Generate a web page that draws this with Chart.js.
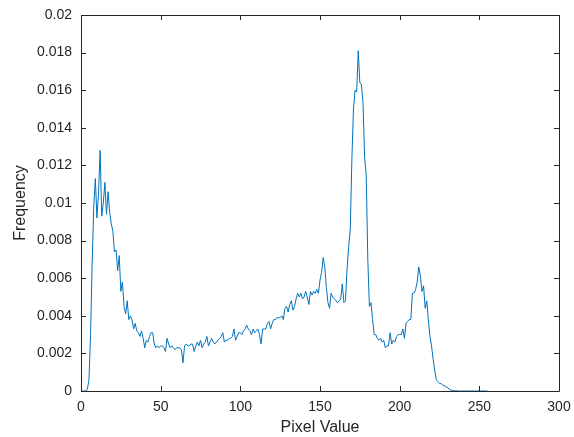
<!DOCTYPE html>
<html>
<head>
<meta charset="utf-8">
<script src="https://cdn.jsdelivr.net/npm/chart.js@4.4.1/dist/chart.umd.min.js"></script>
<style>
html,body{margin:0;padding:0;background:#fff;}
#wrap{width:574px;height:437px;}
</style>
</head>
<body>
<div id="wrap"><canvas id="c" width="574" height="437"></canvas></div>
<script>
// Histogram frequencies for pixel values 0..255
const frequency = [
  0,0,0,0,0.0001,0.0006,0.0030,0.0068,0.0098,0.0113,
  0.0092,0.0105,0.0128,0.0093,0.0100,0.0111,0.0094,0.0106,0.0095,0.0089,
  0.0085,0.0074,0.0075,0.0064,0.0072,0.0053,0.0058,0.0045,0.0041,0.0048,
  0.0038,0.0040,0.0038,0.0033,0.0036,0.0032,0.0031,0.0029,0.0032,0.0028,
  0.0023,0.0027,0.0026,0.0029,0.0031,0.0031,0.0025,0.0023,0.0024,0.0023,
  0.0024,0.0024,0.0023,0.0021,0.0028,0.0025,0.0023,0.0024,0.0023,0.0022,
  0.0023,0.0023,0.0023,0.0022,0.0015,0.0024,0.0025,0.0024,0.0024,0.0025,
  0.0025,0.0021,0.0024,0.0026,0.0024,0.0027,0.0023,0.0025,0.0026,0.0029,
  0.0024,0.0026,0.0028,0.0026,0.0025,0.0026,0.0027,0.0028,0.0029,0.0031,
  0.0026,0.0027,0.0027,0.0028,0.0028,0.0029,0.0033,0.0027,0.0029,0.0031,
  0.0031,0.0030,0.0032,0.0033,0.0035,0.0033,0.0032,0.0030,0.0033,0.0031,
  0.0032,0.0033,0.0030,0.0025,0.0033,0.0033,0.0033,0.0036,0.0037,0.0033,
  0.0036,0.0038,0.0038,0.0039,0.0039,0.0039,0.0040,0.0038,0.0044,0.0045,
  0.0042,0.0046,0.0048,0.0043,0.0045,0.0049,0.0052,0.0050,0.0052,0.0049,
  0.0050,0.0053,0.0050,0.0046,0.0053,0.0051,0.0053,0.0052,0.0054,0.0052,
  0.0059,0.0063,0.0071,0.0066,0.0055,0.0047,0.0044,0.0052,0.0050,0.0049,
  0.0048,0.0047,0.0048,0.0049,0.0057,0.0047,0.0048,0.0065,0.0077,0.0086,
  0.0123,0.0150,0.0160,0.0159,0.0181,0.0164,0.0163,0.0153,0.0124,0.0115,
  0.0070,0.0045,0.0047,0.0038,0.0030,0.0030,0.0028,0.0027,0.0028,0.0026,
  0.0027,0.0023,0.0024,0.0024,0.0031,0.0025,0.0027,0.0026,0.0029,0.0030,
  0.0030,0.0030,0.0033,0.0028,0.0036,0.0037,0.0038,0.0038,0.0052,0.0052,
  0.0054,0.0058,0.0066,0.0061,0.0053,0.0056,0.0044,0.0048,0.0038,0.0029,
  0.0024,0.0017,0.0011,0.0006,0.0005,0.0004,0.0004,0.0003,0.0003,0.0002,
  0.0002,0.0001,0.00005,0.00003,0.00002,0.00001,0.00001,0,0,0,
  0,0,0,0,0,0,0,0,0,0,
  0,0,0,0,0,0
];
const xTicks = [0, 50, 100, 150, 200, 250, 300];
const yTicks = [0, 0.002, 0.004, 0.006, 0.008, 0.01, 0.012, 0.014, 0.016, 0.018, 0.02];
const xLabel = 'Pixel Value';
const yLabel = 'Frequency';

const points = frequency.map((v, i) => ({x: i, y: v}));
const axisColor = '#262626';
const FONT = '"Liberation Sans", Arial, Helvetica, sans-serif';

const boxTicks = {
  id: 'boxTicks',
  afterDraw(chart) {
    const {ctx, chartArea: a, scales} = chart;
    ctx.save();
    ctx.strokeStyle = axisColor;
    ctx.lineWidth = 1;
    ctx.beginPath();
    ctx.rect(Math.round(a.left) + 0.5, Math.round(a.top) + 0.5, Math.round(a.right - a.left), Math.round(a.bottom - a.top));
    ctx.stroke();
    const L = 5;
    ctx.beginPath();
    xTicks.forEach(t => {
      const px = Math.round(scales.x.getPixelForValue(t)) + 0.5;
      ctx.moveTo(px, a.bottom); ctx.lineTo(px, a.bottom - L);
      ctx.moveTo(px, a.top); ctx.lineTo(px, a.top + L);
    });
    yTicks.forEach(t => {
      const py = Math.round(scales.y.getPixelForValue(t)) + 0.5;
      ctx.moveTo(a.left, py); ctx.lineTo(a.left + L, py);
      ctx.moveTo(a.right, py); ctx.lineTo(a.right - L, py);
    });
    ctx.stroke();
    ctx.restore();
  }
};

new Chart(document.getElementById('c'), {
  type: 'line',
  data: {
    datasets: [{
      data: points,
      borderColor: '#0072BD',
      borderWidth: 1,
      pointRadius: 0,
      tension: 0,
      fill: false
    }]
  },
  options: {
    responsive: false,
    animation: false,
    layout: {padding: {top: 15, right: 15, left: 0, bottom: 0}},
    plugins: {legend: {display: false}, tooltip: {enabled: false}},
    scales: {
      x: {
        type: 'linear',
        min: 0, max: 300,
        afterFit(s) { s.height = 46; s.paddingLeft = 0; s.paddingRight = 0; },
        afterBuildTicks(s) { s.ticks = xTicks.map(v => ({value: v})); },
        grid: {display: false, drawTicks: false},
        border: {display: false},
        ticks: {color: axisColor, font: {family: FONT, size: 14}, padding: 8, maxRotation: 0, autoSkip: false},
        title: {display: true, text: xLabel, color: axisColor, font: {family: FONT, size: 16}, padding: {top: 0, bottom: 0}}
      },
      y: {
        type: 'linear',
        min: 0, max: 0.02,
        afterFit(s) { s.width = 81; s.paddingTop = 0; s.paddingBottom = 0; },
        afterBuildTicks(s) { s.ticks = yTicks.map(v => ({value: v})); },
        grid: {display: false, drawTicks: false},
        border: {display: false},
        ticks: {color: axisColor, font: {family: FONT, size: 14}, padding: 9, autoSkip: false,
          callback: v => String(parseFloat(Number(v).toFixed(4)))},
        title: {display: true, text: yLabel, color: axisColor, font: {family: FONT, size: 16}, padding: {top: 11, bottom: 0}}
      }
    }
  },
  plugins: [boxTicks]
});
</script>
</body>
</html>
